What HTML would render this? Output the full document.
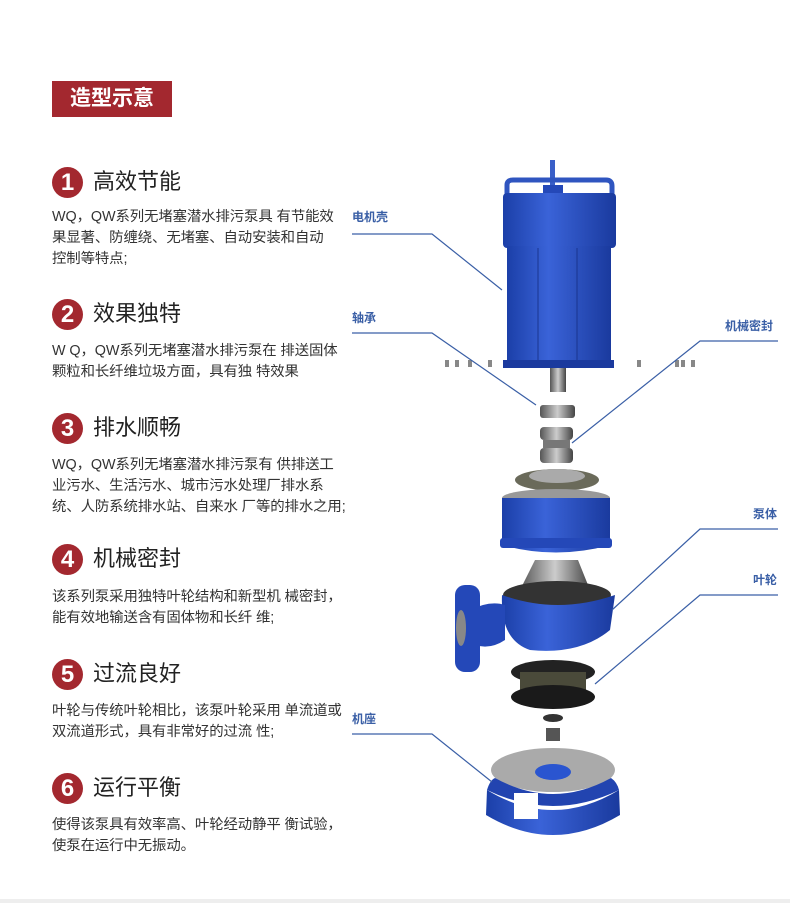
<!DOCTYPE html>
<html><head><meta charset="utf-8"><style>
body{margin:0;width:790px;height:903px;background:#fff;position:relative;overflow:hidden;font-family:"Liberation Sans","Noto Sans CJK SC",sans-serif;}
.a{position:absolute;white-space:nowrap;}
.hdr{left:52px;top:81px;width:120px;height:36px;background:#a3282f;color:#fff;font-size:21px;font-weight:bold;line-height:36px;text-align:center;}
.c{position:absolute;left:52px;width:31px;height:31px;border-radius:50%;background:#a3282f;color:#fff;font-size:24px;font-weight:bold;line-height:31px;text-align:center;}
.h{position:absolute;left:93px;font-size:22px;color:#222;line-height:30px;}
.t{position:absolute;left:52px;font-size:14.4px;color:#333;line-height:21px;white-space:nowrap;letter-spacing:-0.1px;}
.l{position:absolute;font-size:12px;color:#3a5fa6;font-weight:bold;}
</style></head><body>
<div class="a hdr">造型示意</div>

<div class="c" style="top:167px">1</div><div class="h" style="top:167px">高效节能</div>
<div class="t" style="top:207px">WQ，QW系列无堵塞潜水排污泵具 有节能效<br>果显著、防缠绕、无堵塞、自动安装和自动<br>控制等特点;</div>

<div class="c" style="top:299px">2</div><div class="h" style="top:299px">效果独特</div>
<div class="t" style="top:341px">W Q，QW系列无堵塞潜水排污泵在 排送固体<br>颗粒和长纤维垃圾方面，具有独 特效果</div>

<div class="c" style="top:413px">3</div><div class="h" style="top:413px">排水顺畅</div>
<div class="t" style="top:455px">WQ，QW系列无堵塞潜水排污泵有 供排送工<br>业污水、生活污水、城市污水处理厂排水系<br>统、人防系统排水站、自来水 厂等的排水之用;</div>

<div class="c" style="top:544px">4</div><div class="h" style="top:544px">机械密封</div>
<div class="t" style="top:587px">该系列泵采用独特叶轮结构和新型机 械密封，<br>能有效地输送含有固体物和长纤 维;</div>

<div class="c" style="top:659px">5</div><div class="h" style="top:659px">过流良好</div>
<div class="t" style="top:701px">叶轮与传统叶轮相比，该泵叶轮采用 单流道或<br>双流道形式，具有非常好的过流 性;</div>

<div class="c" style="top:773px">6</div><div class="h" style="top:773px">运行平衡</div>
<div class="t" style="top:815px">使得该泵具有效率高、叶轮经动静平 衡试验，<br>使泵在运行中无振动。</div>

<div class="l" style="left:352px;top:208px">电机壳</div>
<div class="l" style="left:352px;top:309px">轴承</div>
<div class="l" style="left:725px;top:317px">机械密封</div>
<div class="l" style="left:753px;top:505px">泵体</div>
<div class="l" style="left:753px;top:571px">叶轮</div>
<div class="l" style="left:352px;top:710px">机座</div>

<svg class="a" style="left:0;top:0" width="790" height="903">
<defs>
<linearGradient id="b" x1="0" x2="1"><stop offset="0" stop-color="#1b3fa8"/><stop offset=".4" stop-color="#3a63d8"/><stop offset="1" stop-color="#1a3a9e"/></linearGradient>
<linearGradient id="g" x1="0" x2="1"><stop offset="0" stop-color="#555"/><stop offset=".5" stop-color="#ccc"/><stop offset="1" stop-color="#444"/></linearGradient>
</defs>
<rect x="550" y="160" width="5" height="30" fill="#3a5fc8"/>
<path d="M507 196 V185 Q507 180 513 180 H606 Q612 180 612 186 V196" fill="none" stroke="#2f55c0" stroke-width="5"/>
<rect x="543" y="185" width="20" height="8" fill="#2448b8"/>
<rect x="503" y="193" width="113" height="55" rx="4" fill="url(#b)"/>
<rect x="507" y="246" width="104" height="116" fill="url(#b)"/>
<line x1="538" y1="248" x2="538" y2="360" stroke="#1a3590"/><line x1="577" y1="248" x2="577" y2="360" stroke="#1a3590"/>
<rect x="503" y="360" width="111" height="8" fill="#1b3a9e"/>
<rect x="550" y="368" width="16" height="24" fill="url(#g)"/>
<g fill="#888"><rect x="445" y="360" width="4" height="7"/><rect x="455" y="360" width="4" height="7"/><rect x="468" y="360" width="4" height="7"/><rect x="488" y="360" width="4" height="7"/><rect x="637" y="360" width="4" height="7"/><rect x="675" y="360" width="4" height="7"/><rect x="681" y="360" width="4" height="7"/><rect x="691" y="360" width="4" height="7"/></g>
<rect x="540" y="405" width="35" height="13" rx="3" fill="url(#g)"/>
<rect x="540" y="427" width="33" height="13" rx="4" fill="url(#g)"/>
<rect x="543" y="440" width="27" height="8" fill="#777"/>
<rect x="540" y="448" width="33" height="15" rx="4" fill="url(#g)"/>
<ellipse cx="557" cy="480" rx="42" ry="11" fill="#6a6a5a"/>
<ellipse cx="557" cy="476" rx="28" ry="7" fill="#aaa"/>
<ellipse cx="556" cy="498" rx="54" ry="9" fill="#999"/>
<path d="M502 498 H610 V545 Q556 560 502 545Z" fill="url(#b)"/>
<rect x="500" y="538" width="112" height="10" rx="3" fill="#2448b8"/>
<path d="M535 560 L578 560 L590 590 L520 590Z" fill="url(#g)"/>
<ellipse cx="557" cy="595" rx="54" ry="14" fill="#333"/>
<path d="M502 595 Q500 640 530 650 Q580 655 610 630 L615 595 Q557 615 502 595Z" fill="url(#b)"/>
<path d="M470 610 Q490 600 505 605 L505 640 Q490 650 475 645Z" fill="#2448b8"/>
<rect x="455" y="585" width="25" height="87" rx="10" fill="#2448b8"/>
<ellipse cx="461" cy="628" rx="5" ry="18" fill="#888"/>
<ellipse cx="553" cy="672" rx="42" ry="12" fill="#222"/>
<rect x="520" y="672" width="66" height="25" fill="#4a4a3a"/>
<ellipse cx="553" cy="697" rx="42" ry="12" fill="#1a1a1a"/>
<ellipse cx="553" cy="718" rx="10" ry="4" fill="#333"/>
<rect x="546" y="728" width="14" height="13" fill="#555"/>
<ellipse cx="553" cy="770" rx="62" ry="22" fill="#aaa"/>
<ellipse cx="553" cy="772" rx="18" ry="8" fill="#2a55d0"/>
<path d="M487 790 Q553 830 619 790 L620 815 Q553 855 486 815Z" fill="url(#b)"/>
<path d="M487 790 Q490 780 495 778 Q553 810 611 778 Q617 782 619 790 Q553 822 487 790Z" fill="#2244b0"/>
<rect x="514" y="793" width="24" height="26" fill="#fff"/>
<g fill="none" stroke="#3a5fa6" stroke-width="1.2">
<polyline points="352,234 432,234 502,290"/>
<polyline points="352,333 432,333 536,405"/>
<polyline points="778,341 700,341 572,443"/>
<polyline points="778,529 700,529 612,610"/>
<polyline points="778,595 700,595 595,684"/>
<polyline points="352,734 432,734 492,782"/>
</g>
<rect x="0" y="899" width="790" height="4" fill="#eee"/>
</svg>
</body></html>
